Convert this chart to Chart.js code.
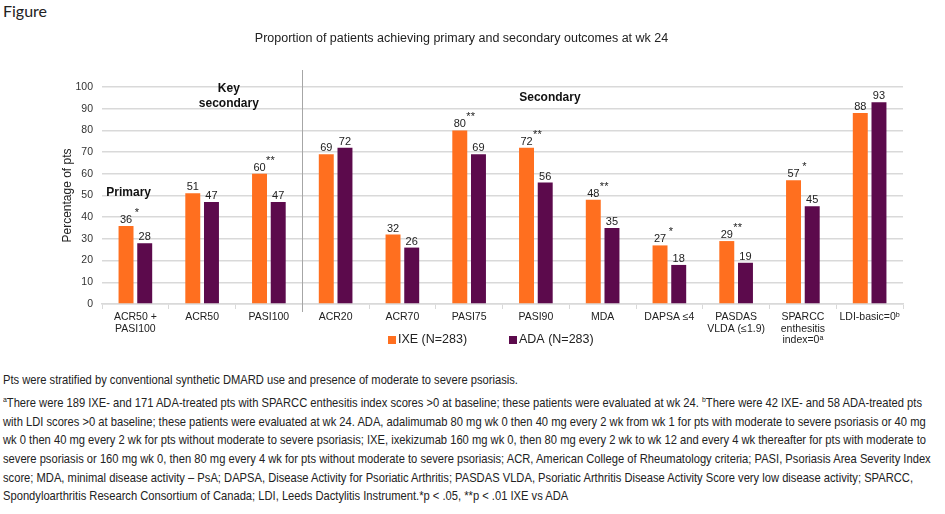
<!DOCTYPE html>
<html>
<head>
<meta charset="utf-8">
<script src="https://cdn.jsdelivr.net/npm/chart.js@4.4.1/dist/chart.umd.min.js"></script>
<style>
  body { margin: 0; background: #fff; width: 945px; height: 514px; overflow: hidden; position: relative; }
  #fig { position: absolute; left: 3px; top: 1px; font: 16px Lato, sans-serif; color: #222; }
  #chartBox { position: absolute; left: 0; top: 0; }
  .note { position: absolute; left: 3px; white-space: nowrap; font: 13px "Liberation Sans", Arial, sans-serif; color: #222; transform-origin: 0 0; }
  .note sup { font-size: 8px; }
</style>
</head>
<body>
<div id="fig">Figure</div>
<canvas id="chartBox" width="945" height="360"></canvas>
<div class="note" style="top:372px">Pts were stratified by conventional synthetic DMARD use and presence of moderate to severe psoriasis.</div>
<div class="note" style="top:395px"><sup>a</sup>There were 189 IXE- and 171 ADA-treated pts with SPARCC enthesitis index scores &gt;0 at baseline; these patients were evaluated at wk 24. <sup>b</sup>There were 42 IXE- and 58 ADA-treated pts</div>
<div class="note" style="top:414px">with LDI scores &gt;0 at baseline; these patients were evaluated at wk 24. ADA, adalimumab 80 mg wk 0 then 40 mg every 2 wk from wk 1 for pts with moderate to severe psoriasis or 40 mg</div>
<div class="note" style="top:432px">wk 0 then 40 mg every 2 wk for pts without moderate to severe psoriasis; IXE, ixekizumab 160 mg wk 0, then 80 mg every 2 wk to wk 12 and every 4 wk thereafter for pts with moderate to</div>
<div class="note" style="top:451px">severe psoriasis or 160 mg wk 0, then 80 mg every 4 wk for pts without moderate to severe psoriasis; ACR, American College of Rheumatology criteria; PASI, Psoriasis Area Severity Index</div>
<div class="note" style="top:470px">score; MDA, minimal disease activity – PsA; DAPSA, Disease Activity for Psoriatic Arthritis; PASDAS VLDA, Psoriatic Arthritis Disease Activity Score very low disease activity; SPARCC,</div>
<div class="note" style="top:488px">Spondyloarthritis Research Consortium of Canada; LDI, Leeds Dactylitis Instrument.*p &lt; .05, **p &lt; .01 IXE vs ADA</div>

<script>
// données
const categories = [
    ['ACR50 +', 'PASI100'], 'ACR50', 'PASI100', 'ACR20', 'ACR70', 'PASI75',
    'PASI90', 'MDA', 'DAPSA ≤4', ['PASDAS', 'VLDA (≤1.9)'],
    ['SPARCC', 'enthesitis', 'index=0ᵃ'], 'LDI-basic=0ᵇ'
];
const ixeValues = [36, 51, 60, 69, 32, 80, 72, 48, 27, 29, 57, 88];
const adaValues = [28, 47, 47, 72, 26, 69, 56, 35, 18, 19, 45, 93];
const significance = ['*', '', '**', '', '', '**', '**', '**', '*', '**', '*', ''];
const seriesNames = ['IXE (N=283)', 'ADA (N=283)'];
const yTicks = [0, 10, 20, 30, 40, 50, 60, 70, 80, 90, 100];

const ARIAL = '"Liberation Sans", Arial, sans-serif';
const ORANGE = '#FF6F1F';
const PURPLE = '#5C0A4C';

// les notes de bas de page sont étroites : on les resserre toutes du même facteur
const notes = document.querySelectorAll('.note');
const squeeze = 919 / notes[1].getBoundingClientRect().width;
notes.forEach(function (n) { n.style.transform = 'scaleX(' + squeeze + ')'; });

// étiquettes, astérisques, séparateur et légende dessinés à la main
const annotations = {
    id: 'annotations',
    afterDatasetsDraw(chart) {
        const ctx = chart.ctx;
        const x = chart.scales.x;
        const y = chart.scales.y;
        const m0 = chart.getDatasetMeta(0).data;
        const m1 = chart.getDatasetMeta(1).data;

        ctx.save();
        ctx.fillStyle = '#222';
        ctx.textAlign = 'center';
        ctx.textBaseline = 'bottom';
        ctx.font = '11px ' + ARIAL;
        [m0, m1].forEach(function (bars, d) {
            bars.forEach(function (bar, i) {
                const v = chart.data.datasets[d].data[i];
                ctx.fillText(String(v), bar.x, bar.y - 0.5);
            });
        });

        // astérisques
        ctx.textBaseline = 'alphabetic';
        ctx.font = '11px ' + ARIAL;
        significance.forEach(function (s, i) {
            if (!s) return;
            const cx = (m0[i].x + m1[i].x) / 2 + 1.5;
            ctx.fillText(s, cx, m0[i].y - 10);
        });

        // séparateur vertical
        const sepX = Math.round((x.getPixelForValue(2) + x.getPixelForValue(3)) / 2) + 0.5;
        ctx.strokeStyle = '#a6a6a6';
        ctx.lineWidth = 1;
        ctx.beginPath();
        ctx.moveTo(sepX, 70);
        ctx.lineTo(sepX, y.getPixelForValue(0) + 8);
        ctx.stroke();

        // titres de groupes
        ctx.textBaseline = 'middle';
        ctx.font = 'bold 12px ' + ARIAL;
        ctx.fillStyle = '#111';
        ctx.fillText('Primary', x.getPixelForValue(-0.1), y.getPixelForValue(51.5));
        ctx.fillText('Key', x.getPixelForValue(1.4), y.getPixelForValue(99.2));
        ctx.fillText('secondary', x.getPixelForValue(1.4), y.getPixelForValue(92.3));
        ctx.fillText('Secondary', x.getPixelForValue(6.21), y.getPixelForValue(95));

        // légende
        const legendX = [388, 509];
        const legendY = 340;
        ctx.font = '12.5px ' + ARIAL;
        ctx.textAlign = 'left';
        chart.data.datasets.forEach(function (ds, d) {
            ctx.fillStyle = ds.backgroundColor;
            ctx.fillRect(legendX[d], legendY - 4, 8, 8);
            ctx.fillStyle = '#222';
            ctx.fillText(ds.label, legendX[d] + 10, legendY);
        });
        ctx.restore();
    }
};

const ctx = document.getElementById('chartBox').getContext('2d');
const myChart = new Chart(ctx, {
    type: 'bar',
    data: {
        labels: categories,
        datasets: [{
            label: seriesNames[0],
            data: ixeValues,
            backgroundColor: ORANGE,
            borderWidth: 0,
            categoryPercentage: 0.56,
            barPercentage: 0.8
        }, {
            label: seriesNames[1],
            data: adaValues,
            backgroundColor: PURPLE,
            borderWidth: 0,
            categoryPercentage: 0.56,
            barPercentage: 0.8
        }]
    },
    options: {
        responsive: false,
        animation: false,
        devicePixelRatio: 1,
        layout: { padding: { left: 20, right: 42, top: 0, bottom: 16 } },
        plugins: {
            legend: { display: false },
            tooltip: { enabled: false },
            title: {
                display: true,
                text: 'Proportion of patients achieving primary and secondary outcomes at wk 24',
                color: '#222',
                font: { family: ARIAL, size: 12.5, weight: 'normal', lineHeight: 1.2 },
                padding: { top: 31, bottom: 41 }
            }
        },
        scales: {
            x: {
                grid: { display: true, drawOnChartArea: false, drawTicks: true, tickLength: 5, color: '#d9d9d9' },
                border: { color: '#d9d9d9', width: 1.5 },
                ticks: {
                    color: '#222',
                    padding: 2,
                    maxRotation: 0,
                    autoSkip: false,
                    font: { family: ARIAL, size: 10.5, lineHeight: 1.12 }
                },
                afterFit: function (scale) { scale.height = 40; }
            },
            y: {
                min: 0,
                max: 100,
                afterBuildTicks: function (scale) {
                    scale.ticks = yTicks.map(function (v) { return { value: v }; });
                },
                grid: { color: '#d9d9d9', lineWidth: 1.5, drawTicks: false },
                border: { display: false },
                ticks: {
                    color: '#333',
                    padding: 9,
                    font: { family: ARIAL, size: 10.5 }
                },
                title: {
                    display: true,
                    text: 'Percentage of pts',
                    color: '#222',
                    font: { family: ARIAL, size: 12 },
                    padding: { top: 40, bottom: 0 }
                },
                afterFit: function (scale) { scale.width = 82; }
            }
        }
    },
    plugins: [annotations]
});
</script>
</body>
</html>
